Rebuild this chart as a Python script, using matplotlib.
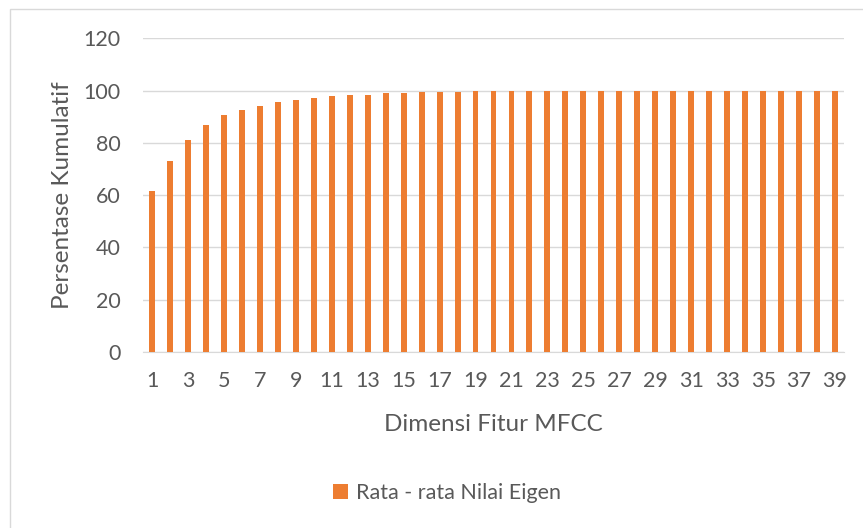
import matplotlib
matplotlib.use("Agg")
import matplotlib.pyplot as plt
from matplotlib.patches import Rectangle

dims = list(range(1, 40))
values = [61.5, 73.0, 81.2, 87.0, 90.5, 92.6, 94.2, 95.6, 96.5, 97.3,
          97.8, 98.2, 98.5, 98.9, 99.2, 99.3, 99.5, 99.6, 99.7, 99.8,
          99.9, 99.9, 99.95, 100, 100, 100, 100, 100, 100, 100,
          100, 100, 100, 100, 100, 100, 100, 100, 100]
tick_labels = [str(d) for d in dims if d % 2 == 1]
series_name = "Rata - rata Nilai Eigen"

plt.rcParams['font.family'] = ['Lato', 'DejaVu Sans']
txt = '#595959'
fig = plt.figure(figsize=(8.63, 5.28), dpi=100)
fig.patches.append(Rectangle((10/863, -0.1), 1.2, 1 - 9/528 + 0.1, transform=fig.transFigure,
                             fill=False, edgecolor='#d9d9d9', linewidth=1))
ax = fig.add_axes([143/863, 1 - 352/528, (844 - 143)/863, (352 - 38.3)/528])
ax.bar(dims, values, width=0.33, color='#ED7D31', label=series_name, zorder=3)
ax.set_xlim(0.5, 39.5)
ax.set_ylim(0, 120)
ax.set_yticks(range(0, 121, 20))
ax.set_xticks([d for d in dims if d % 2 == 1])
ax.set_xticklabels(tick_labels)
ax.grid(axis='y', color='#d9d9d9', linewidth=1, zorder=0)
for s in ['top', 'right', 'left']:
    ax.spines[s].set_visible(False)
ax.spines['bottom'].set_color('#d9d9d9')
ax.tick_params(axis='both', length=0, colors=txt, labelsize=15.5)
ax.tick_params(axis='y', pad=16)
ax.tick_params(axis='x', pad=14)
ax.set_ylabel('Persentase Kumulatif', color=txt, fontsize=17.5, labelpad=8)
ax.set_xlabel('Dimensi Fitur MFCC', color=txt, fontsize=17.5, labelpad=16)
leg = fig.legend(loc='center', bbox_to_anchor=(0.518, 1 - 493/528), frameon=False,
                 fontsize=15.5, handlelength=0.7, handleheight=0.7, handletextpad=0.35)
for t in leg.get_texts():
    t.set_color(txt)
fig.savefig('out.png', dpi=100)
